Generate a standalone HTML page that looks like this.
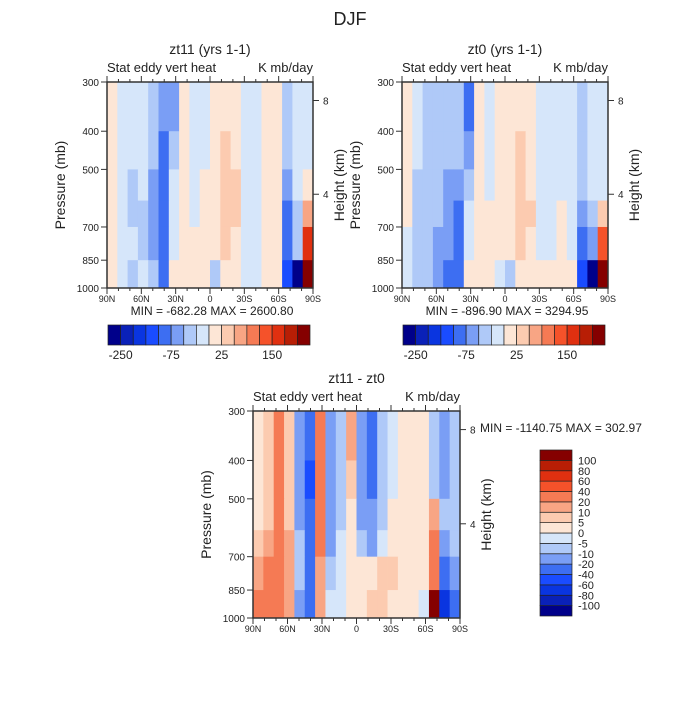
<!DOCTYPE html>
<html><head><meta charset="utf-8"><style>
body{margin:0;background:#fff;}
svg text{font-family:"Liberation Sans",sans-serif;fill:#222;}
</style></head><body>
<svg id="chart" width="700" height="700" viewBox="0 0 700 700" xmlns="http://www.w3.org/2000/svg"></svg>
<script>
const lats=[85.5,76.5,67.5,58.5,49.5,40.5,31.5,22.5,13.5,4.5,-4.5,-13.5,-22.5,-31.5,-40.5,-49.5,-58.5,-67.5,-76.5,-85.5];
const pEdges=[300,400,500,600,700,850,1000];
const zt11=[
[10,-10,-10,-10,-40,-60,-60,10,-10,-10,10,10,10,-10,-10,10,10,-30,-10,-10],
[10,-10,-10,-10,-40,-80,-40,10,-10,-10,10,30,10,-10,-10,10,10,-40,-10,-10],
[10,-10,-30,-10,-60,-100,-10,10,-10,10,10,30,30,-10,-10,10,10,-60,-10,10],
[10,-10,-30,-30,-60,-100,-10,10,-10,10,10,30,30,-10,-10,10,10,-80,-30,60],
[10,-10,-10,-30,-60,-100,-10,10,10,10,10,30,10,-10,-10,10,10,-80,-40,150],
[10,-10,-30,-10,-40,-80,10,10,10,10,-30,10,10,-10,-10,10,10,-150,-300,300]];
const zt0=[
[10,-10,-30,-30,-40,-40,-80,10,-10,10,10,10,10,-10,-10,-10,-10,-30,-10,-10],
[10,-10,-30,-40,-40,-40,-60,10,-10,10,10,30,10,-10,-10,-10,-10,-30,-10,-10],
[10,-30,-30,-40,-60,-60,-40,10,-10,10,10,30,10,-10,-10,-10,-10,-40,-10,-10],
[10,-30,-40,-40,-60,-80,-10,10,10,10,10,30,30,-10,-10,10,-10,-60,-30,30],
[-10,-40,-40,-60,-60,-80,-10,10,10,10,10,30,10,-10,-10,10,-10,-80,-60,100],
[-10,-40,-40,-60,-80,-80,10,10,10,-10,-30,10,10,10,10,10,10,-150,-300,300]];
const diff=[
[3,7,30,7,-15,-30,30,-15,-7,15,-15,-30,-7,-3,3,3,3,-7,-15,-7],
[3,7,30,7,-15,-50,30,-15,-7,7,-15,-30,-7,-3,3,3,3,-7,-15,-7],
[3,7,30,7,-15,-30,30,-15,-7,3,-15,-15,-7,3,3,3,3,15,-7,-7],
[7,15,30,15,-7,-30,30,-15,-3,3,-7,-15,-3,3,3,3,3,30,-15,-7],
[15,30,30,15,-7,-30,15,-7,-3,3,3,3,7,7,3,3,3,30,-30,-15],
[30,30,30,15,-15,-30,15,-3,-3,3,3,7,7,3,3,3,-3,150,-80,-30]];
const levTop=[-250,-200,-150,-100,-75,-50,-25,0,25,50,75,100,150,200,250];
const levDiff=[-100,-80,-60,-40,-20,-10,-5,0,5,10,20,40,60,80,100];
const topTickLabels=["-250","-75","25","150"];
const colors=["#00008a","#0a21b8","#0a35e0","#1a4cff","#3d6ef2","#7a9ef5","#afc9f8","#d6e6fa","#fde6d6","#fccbb0","#f8a584","#f57a54","#f5522a","#e03010","#b81e05","#850000"];
const xLabels=["90N","60N","30N","0","30S","60S","90S"];
const pTicks=[300,400,500,700,850,1000];
const zTicks=[8,4];

const NS="http://www.w3.org/2000/svg";
const svg=document.getElementById('chart');
function el(tag,attrs,parent){const e=document.createElementNS(NS,tag);for(const k in attrs)e.setAttribute(k,attrs[k]);(parent||svg).appendChild(e);return e;}
function txt(x,y,s,size,anchor,parent,rot){const t=el('text',{x:x,y:y,'font-size':size,'text-anchor':anchor||'middle'},parent);if(rot)t.setAttribute('transform','rotate(-90 '+x+' '+y+')');t.textContent=s;return t;}
function colorFor(v,lev){let i=0;while(i<lev.length&&v>=lev[i])i++;return colors[i];}

function panel(px,py,w,h,data,lev,title,name){
  const g=el('g',{});
  
  
  const xS=lat=>px+(90-lat)/180*w;
  const yS=p=>py+(Math.log(p)-Math.log(300))/(Math.log(1000)-Math.log(300))*h;
  const zS=z=>yS(1000*Math.exp(-z/7.3));
  for(let r=0;r<data.length;r++)for(let c=0;c<lats.length;c++){
    const x0=xS(lats[c]+4.5),x1=xS(lats[c]-4.5);
    const y0=yS(pEdges[r]),y1=yS(pEdges[r+1]);
    const cell=el('rect',{x:x0,y:y0,width:x1-x0+0.4,height:y1-y0+0.4,fill:colorFor(data[r][c],lev)},g);
    
    
  }
  el('rect',{x:px,y:py,width:w,height:h,fill:'none',stroke:'#333','stroke-width':1.5},g);
  for(let lat=90;lat>=-90;lat-=10){const x=xS(lat);const L=(lat%30===0)?6:3;
    el('line',{x1:x,y1:py+h,x2:x,y2:py+h+L,stroke:'#333'},g);el('line',{x1:x,y1:py,x2:x,y2:py-L,stroke:'#333'},g);}
  xLabels.forEach((s,i)=>txt(xS(90-30*i),py+h+14,s,9,'middle',g));
  pTicks.forEach(p=>{const y=yS(p);el('line',{x1:px-6,y1:y,x2:px,y2:y,stroke:'#333'},g);txt(px-8,y+4,String(p),10,'end',g);});
  zTicks.forEach(z=>{const y=zS(z);el('line',{x1:px+w,y1:y,x2:px+w+6,y2:y,stroke:'#333'},g);txt(px+w+10,y+4,String(z),10,'start',g);});
  txt(px-42,py+h/2,'Pressure (mb)',14,'middle',g,true);
  txt(px+w+31,py+h/2,'Height (km)',14,'middle',g,true);
  txt(px+w/2,py-28,title,14,'middle',g);
  txt(px,py-10,'Stat eddy vert heat',13,'start',g);
  txt(px+w,py-10,'K mb/day',13,'end',g);
}
txt(350,25,'DJF',18,'middle');
panel(107,82,206,206,zt11,levTop,'zt11 (yrs 1-1)','panel-zt11');
panel(402,82,206,206,zt0,levTop,'zt0 (yrs 1-1)','panel-zt0');
panel(253,411,207,207,diff,levDiff,'zt11 - zt0','panel-diff');
txt(212,315,'MIN = -682.28   MAX = 2600.80',12);
txt(507,315,'MIN = -896.90   MAX = 3294.95',12);
txt(480,432,'MIN = -1140.75   MAX = 302.97',12,'start');

function hbar(x,y,w,h,name){
  const g=el('g',{});
  const cw=w/colors.length;
  colors.forEach((c,i)=>el('rect',{x:x+i*cw,y:y,width:cw,height:h,fill:c,stroke:'#222','stroke-width':0.7},g));
  topTickLabels.forEach((s,i)=>txt(x+(1+4*i)*cw,y+h+14,s,12,'middle',g));
}
hbar(108,325,202,20,'colorbar-zt11');
hbar(403,325,202,20,'colorbar-zt0');
(function(){
  const g=el('g',{});
  const x=540,y=450,w=32,h=166,ch=h/colors.length;
  colors.forEach((c,i)=>el('rect',{x:x,y:y+h-(i+1)*ch,width:w,height:ch,fill:c,stroke:'#222','stroke-width':0.7},g));
  levDiff.forEach((v,i)=>txt(x+w+6,y+h-(i+1)*ch+4,String(v),11,'start',g));
})();
</script>
</body></html>
